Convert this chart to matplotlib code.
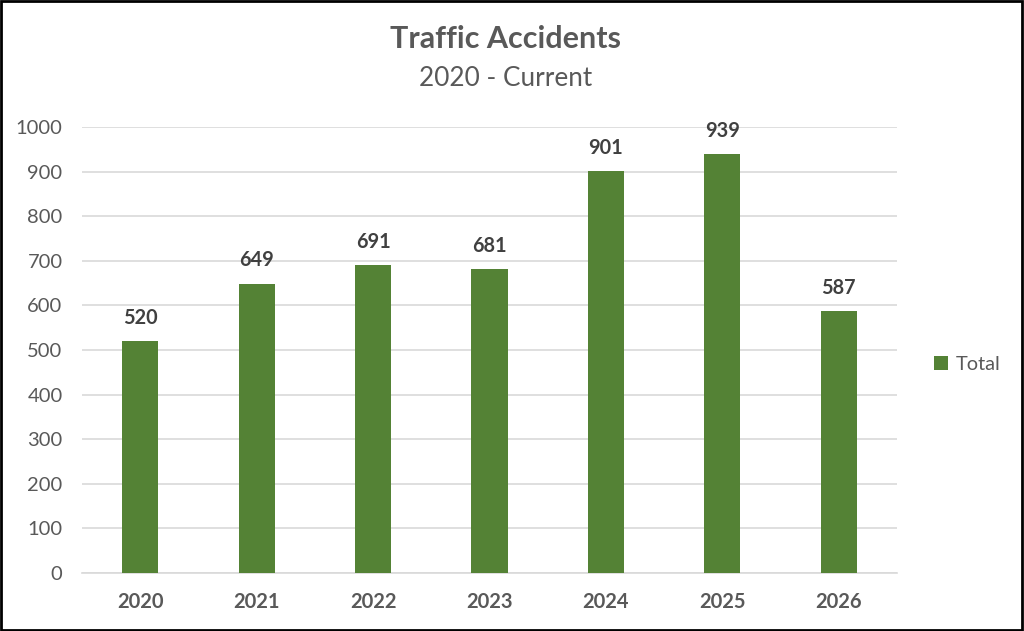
import numpy as np
import matplotlib.pyplot as plt
import matplotlib as mpl

mpl.rcParams['font.family'] = ['Lato', 'DejaVu Sans']

years = ['2020', '2021', '2022', '2023', '2024', '2025', '2026']
total = [520, 649, 691, 681, 901, 939, 587]

fig = plt.figure(figsize=(10.24, 6.31), dpi=100)
ax = fig.add_axes([82/1024, 1-573/631, (897-82)/1024, (573-127)/631])

x = np.arange(len(years))
bars = ax.bar(x, total, width=0.31, color='#548235', label='Total', zorder=3)
for xi, v in zip(x, total):
    ax.text(xi, v + 52, str(v), ha='center', va='center', fontsize=14.3,
            fontweight='bold', color='#404040')

ax.set_xlim(-0.5, 6.5)
ax.set_ylim(0, 1000)
ax.set_yticks(range(0, 1001, 100))
ax.set_xticks(x)
ax.set_xticklabels(years, fontweight='bold')
ax.tick_params(axis='both', length=0, labelsize=14.5, labelcolor='#595959')
ax.tick_params(axis='y', pad=14)
ax.tick_params(axis='x', pad=14)
ax.grid(axis='y', color='#D9D9D9', linewidth=1.2, zorder=0)
for s in ['top', 'right', 'left']:
    ax.spines[s].set_visible(False)
ax.spines['bottom'].set_color('#D9D9D9')
ax.spines['bottom'].set_linewidth(1.2)

fig.text(506/1024, 1-39/631, 'Traffic Accidents', ha='center', va='center',
         fontsize=22, fontweight='bold', color='#595959')
fig.text(506/1024, 1-78/631, '2020 - Current', ha='center', va='center',
         fontsize=18.8, color='#595959')

leg = fig.legend(handles=[bars], labels=['Total'], loc='center left',
                 bbox_to_anchor=(916/1024, 1-364/631), frameon=False,
                 fontsize=14.4, handlelength=0.7, handleheight=0.7, handletextpad=0.4)
for t in leg.get_texts():
    t.set_color('#595959')

fig.patches.append(mpl.patches.Rectangle((0.001, 0.002), 0.997, 0.996, transform=fig.transFigure,
                                         fill=False, edgecolor='black', linewidth=2))

fig.savefig('out.png', dpi=100)
